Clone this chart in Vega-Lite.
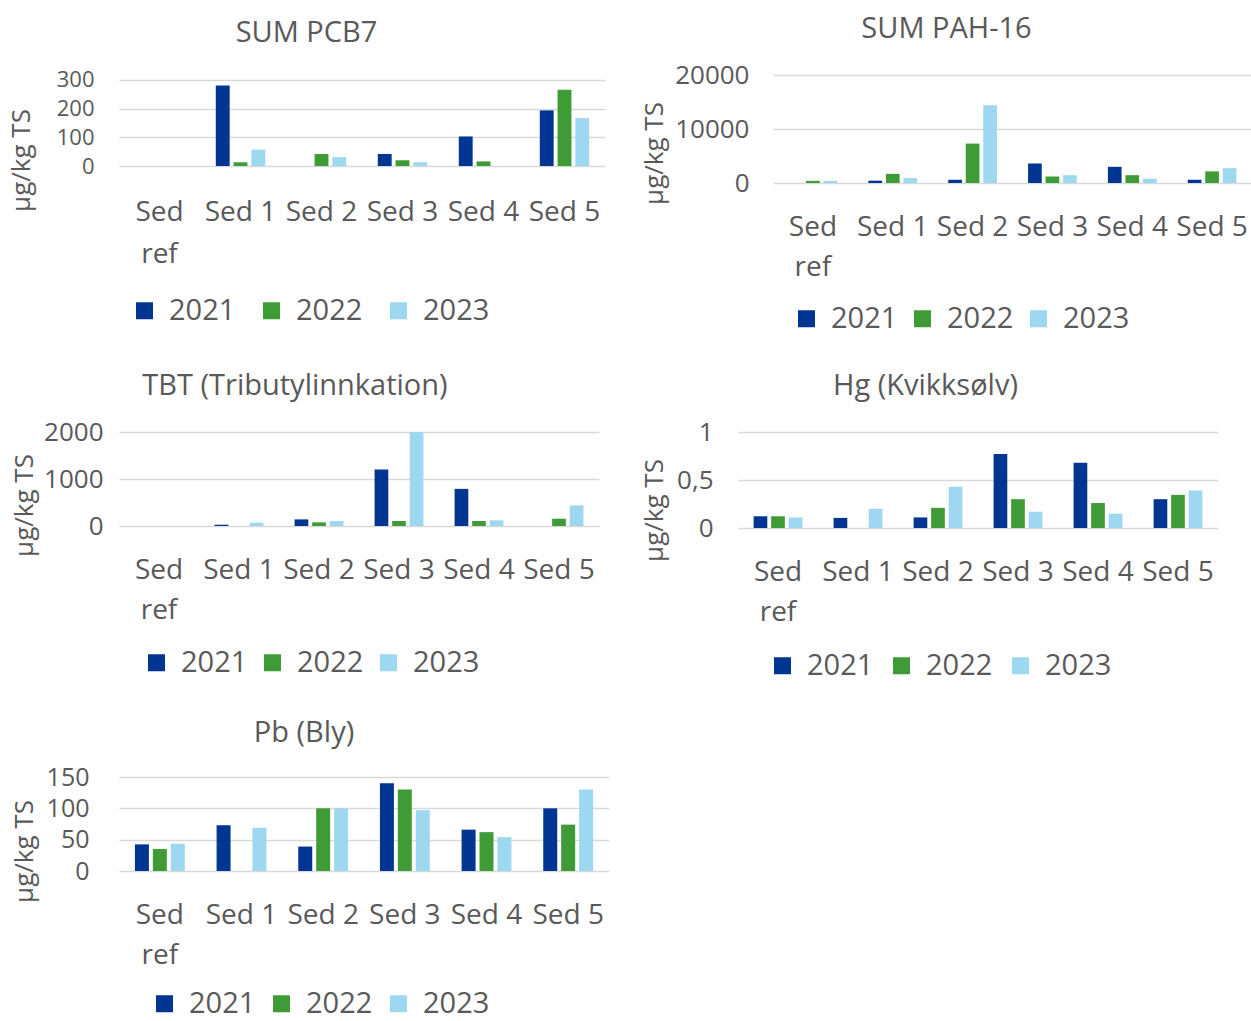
{
  "$schema": "https://vega.github.io/schema/vega-lite/v6.json",
  "background": "white",
  "padding": {"left": 7, "top": 15, "right": 0, "bottom": 4},
  "config": {
    "font": "Open Sans",
    "view": {"stroke": null},
    "axis": {"labelColor": "#595959", "titleColor": "#595959", "titleFontWeight": "normal", "ticks": false, "domain": false, "gridColor": "#D9D9D9", "gridWidth": 1.5},
    "axisX": {"labelFontSize": 28, "labelAngle": 0, "labelPadding": 30, "labelLineHeight": 40, "grid": false},
    "axisY": {"labelFontSize": 26, "labelPadding": 25, "titleFontSize": 26, "titleBaseline": "middle", "titleAlign": "center", "grid": true},
    "legend": {"orient": "none", "direction": "horizontal", "title": null, "symbolType": "square", "symbolSize": 289, "symbolStrokeWidth": 0, "symbolOpacity": 1, "labelFontSize": 29, "labelColor": "#595959", "labelOffset": 10, "columnPadding": 13, "padding": 0},
    "title": {"fontSize": 29, "fontWeight": "normal", "color": "#595959", "anchor": "middle", "frame": "bounds"}
  },
  "data": {"values": [
    {"panel": "PCB7", "site": "Sed 1", "year": "2021", "value": 281},
    {"panel": "PCB7", "site": "Sed 1", "year": "2022", "value": 13},
    {"panel": "PCB7", "site": "Sed 1", "year": "2023", "value": 57},
    {"panel": "PCB7", "site": "Sed 2", "year": "2022", "value": 42},
    {"panel": "PCB7", "site": "Sed 2", "year": "2023", "value": 31},
    {"panel": "PCB7", "site": "Sed 3", "year": "2021", "value": 42},
    {"panel": "PCB7", "site": "Sed 3", "year": "2022", "value": 20},
    {"panel": "PCB7", "site": "Sed 3", "year": "2023", "value": 13},
    {"panel": "PCB7", "site": "Sed 4", "year": "2021", "value": 103},
    {"panel": "PCB7", "site": "Sed 4", "year": "2022", "value": 16},
    {"panel": "PCB7", "site": "Sed 5", "year": "2021", "value": 194},
    {"panel": "PCB7", "site": "Sed 5", "year": "2022", "value": 266},
    {"panel": "PCB7", "site": "Sed 5", "year": "2023", "value": 167},
    {"panel": "PAH16", "site": "Sed ref", "year": "2022", "value": 400},
    {"panel": "PAH16", "site": "Sed ref", "year": "2023", "value": 400},
    {"panel": "PAH16", "site": "Sed 1", "year": "2021", "value": 430},
    {"panel": "PAH16", "site": "Sed 1", "year": "2022", "value": 1700},
    {"panel": "PAH16", "site": "Sed 1", "year": "2023", "value": 900},
    {"panel": "PAH16", "site": "Sed 2", "year": "2021", "value": 600},
    {"panel": "PAH16", "site": "Sed 2", "year": "2022", "value": 7300},
    {"panel": "PAH16", "site": "Sed 2", "year": "2023", "value": 14400},
    {"panel": "PAH16", "site": "Sed 3", "year": "2021", "value": 3600},
    {"panel": "PAH16", "site": "Sed 3", "year": "2022", "value": 1200},
    {"panel": "PAH16", "site": "Sed 3", "year": "2023", "value": 1450},
    {"panel": "PAH16", "site": "Sed 4", "year": "2021", "value": 3000},
    {"panel": "PAH16", "site": "Sed 4", "year": "2022", "value": 1450},
    {"panel": "PAH16", "site": "Sed 4", "year": "2023", "value": 800},
    {"panel": "PAH16", "site": "Sed 5", "year": "2021", "value": 600},
    {"panel": "PAH16", "site": "Sed 5", "year": "2022", "value": 2150},
    {"panel": "PAH16", "site": "Sed 5", "year": "2023", "value": 2750},
    {"panel": "TBT", "site": "Sed 1", "year": "2021", "value": 28},
    {"panel": "TBT", "site": "Sed 1", "year": "2023", "value": 70},
    {"panel": "TBT", "site": "Sed 2", "year": "2021", "value": 141},
    {"panel": "TBT", "site": "Sed 2", "year": "2022", "value": 78},
    {"panel": "TBT", "site": "Sed 2", "year": "2023", "value": 106},
    {"panel": "TBT", "site": "Sed 3", "year": "2021", "value": 1200},
    {"panel": "TBT", "site": "Sed 3", "year": "2022", "value": 106},
    {"panel": "TBT", "site": "Sed 3", "year": "2023", "value": 2000},
    {"panel": "TBT", "site": "Sed 4", "year": "2021", "value": 790},
    {"panel": "TBT", "site": "Sed 4", "year": "2022", "value": 106},
    {"panel": "TBT", "site": "Sed 4", "year": "2023", "value": 120},
    {"panel": "TBT", "site": "Sed 5", "year": "2022", "value": 155},
    {"panel": "TBT", "site": "Sed 5", "year": "2023", "value": 438},
    {"panel": "Hg", "site": "Sed ref", "year": "2021", "value": 0.122},
    {"panel": "Hg", "site": "Sed ref", "year": "2022", "value": 0.122},
    {"panel": "Hg", "site": "Sed ref", "year": "2023", "value": 0.11},
    {"panel": "Hg", "site": "Sed 1", "year": "2021", "value": 0.105},
    {"panel": "Hg", "site": "Sed 1", "year": "2023", "value": 0.2},
    {"panel": "Hg", "site": "Sed 2", "year": "2021", "value": 0.11},
    {"panel": "Hg", "site": "Sed 2", "year": "2022", "value": 0.21},
    {"panel": "Hg", "site": "Sed 2", "year": "2023", "value": 0.43},
    {"panel": "Hg", "site": "Sed 3", "year": "2021", "value": 0.77},
    {"panel": "Hg", "site": "Sed 3", "year": "2022", "value": 0.3},
    {"panel": "Hg", "site": "Sed 3", "year": "2023", "value": 0.17},
    {"panel": "Hg", "site": "Sed 4", "year": "2021", "value": 0.68},
    {"panel": "Hg", "site": "Sed 4", "year": "2022", "value": 0.26},
    {"panel": "Hg", "site": "Sed 4", "year": "2023", "value": 0.15},
    {"panel": "Hg", "site": "Sed 5", "year": "2021", "value": 0.3},
    {"panel": "Hg", "site": "Sed 5", "year": "2022", "value": 0.345},
    {"panel": "Hg", "site": "Sed 5", "year": "2023", "value": 0.39},
    {"panel": "Pb", "site": "Sed ref", "year": "2021", "value": 42.5},
    {"panel": "Pb", "site": "Sed ref", "year": "2022", "value": 35},
    {"panel": "Pb", "site": "Sed ref", "year": "2023", "value": 43.5},
    {"panel": "Pb", "site": "Sed 1", "year": "2021", "value": 73},
    {"panel": "Pb", "site": "Sed 1", "year": "2023", "value": 69},
    {"panel": "Pb", "site": "Sed 2", "year": "2021", "value": 39},
    {"panel": "Pb", "site": "Sed 2", "year": "2022", "value": 100},
    {"panel": "Pb", "site": "Sed 2", "year": "2023", "value": 100},
    {"panel": "Pb", "site": "Sed 3", "year": "2021", "value": 140},
    {"panel": "Pb", "site": "Sed 3", "year": "2022", "value": 130},
    {"panel": "Pb", "site": "Sed 3", "year": "2023", "value": 97},
    {"panel": "Pb", "site": "Sed 4", "year": "2021", "value": 66},
    {"panel": "Pb", "site": "Sed 4", "year": "2022", "value": 62},
    {"panel": "Pb", "site": "Sed 4", "year": "2023", "value": 54},
    {"panel": "Pb", "site": "Sed 5", "year": "2021", "value": 100},
    {"panel": "Pb", "site": "Sed 5", "year": "2022", "value": 74},
    {"panel": "Pb", "site": "Sed 5", "year": "2023", "value": 130}
  ]},
  "spacing": 38,
  "resolve": {"scale": {"color": "independent", "x": "independent", "y": "independent", "xOffset": "independent"}, "legend": {"color": "independent"}},
  "vconcat": [
    {
      "bounds": "flush",
      "spacing": 168,
      "resolve": {"scale": {"color": "independent", "x": "independent", "y": "independent", "xOffset": "independent"}, "legend": {"color": "independent"}},
      "hconcat": [
        {
          "width": 486, "height": 91,
          "title": {"text": "SUM PCB7", "offset": 21},
          "transform": [{"filter": "datum.panel === 'PCB7'"}],
          "mark": "bar",
          "encoding": {
            "x": {"field": "site", "type": "nominal", "title": null, "scale": {"domain": ["Sed ref", "Sed 1", "Sed 2", "Sed 3", "Sed 4", "Sed 5"], "paddingInner": 0.39, "paddingOuter": 0.195}, "axis": {"labelExpr": "datum.value === 'Sed ref' ? ['Sed', 'ref'] : datum.value", "labelPadding": 32, "labelLineHeight": 42}},
            "xOffset": {"field": "year", "type": "nominal", "scale": {"domain": ["2021", "2022", "2023"], "paddingInner": 0.22, "paddingOuter": 0}},
            "y": {"field": "value", "type": "quantitative", "scale": {"domain": [0, 317.4], "nice": false}, "axis": {"values": [0, 100, 200, 300], "labelFontSize": 22, "title": "µg/kg TS", "titleX": -98, "titleY": 85}},
            "color": {"field": "year", "type": "nominal", "scale": {"domain": ["2021", "2022", "2023"], "range": ["#003591", "#3F9B35", "#9DD7F0"]}, "legend": {"legendX": 11, "legendY": 221, "columnPadding": 21}}
          }
        },
        {
          "width": 479, "height": 108,
          "title": {"text": "SUM PAH-16", "offset": 18},
          "transform": [{"filter": "datum.panel === 'PAH16'"}],
          "mark": "bar",
          "encoding": {
            "x": {"field": "site", "type": "nominal", "title": null, "scale": {"domain": ["Sed ref", "Sed 1", "Sed 2", "Sed 3", "Sed 4", "Sed 5"], "paddingInner": 0.39, "paddingOuter": 0.195}, "axis": {"labelExpr": "datum.value === 'Sed ref' ? ['Sed', 'ref'] : datum.value"}},
            "xOffset": {"field": "year", "type": "nominal", "scale": {"domain": ["2021", "2022", "2023"], "paddingInner": 0.22, "paddingOuter": 0}},
            "y": {"field": "value", "type": "quantitative", "scale": {"domain": [0, 20000], "nice": false}, "axis": {"values": [0, 10000, 20000], "format": "d", "title": "µg/kg TS", "titleX": -119, "titleY": 78, "labelPadding": 24}},
            "color": {"field": "year", "type": "nominal", "scale": {"domain": ["2021", "2022", "2023"], "range": ["#003591", "#3F9B35", "#9DD7F0"]}, "legend": {"legendX": 19, "legendY": 229, "columnPadding": 10}}
          }
        }
      ]
    },
    {
      "bounds": "flush",
      "spacing": 139,
      "resolve": {"scale": {"color": "independent", "x": "independent", "y": "independent", "xOffset": "independent"}, "legend": {"color": "independent"}},
      "hconcat": [
        {
          "width": 480, "height": 94,
          "title": {"text": "TBT (Tributylinnkation)", "offset": 18, "dx": -10},
          "transform": [{"filter": "datum.panel === 'TBT'"}],
          "mark": "bar",
          "encoding": {
            "x": {"field": "site", "type": "nominal", "title": null, "scale": {"domain": ["Sed ref", "Sed 1", "Sed 2", "Sed 3", "Sed 4", "Sed 5"], "paddingInner": 0.39, "paddingOuter": 0.195}, "axis": {"labelExpr": "datum.value === 'Sed ref' ? ['Sed', 'ref'] : datum.value"}},
            "xOffset": {"field": "year", "type": "nominal", "scale": {"domain": ["2021", "2022", "2023"], "paddingInner": 0.22, "paddingOuter": 0}},
            "y": {"field": "value", "type": "quantitative", "scale": {"domain": [0, 2000], "nice": false}, "axis": {"values": [0, 1000, 2000], "format": "d", "title": "µg/kg TS", "titleX": -95, "titleY": 73, "labelPadding": 16}},
            "color": {"field": "year", "type": "nominal", "scale": {"domain": ["2021", "2022", "2023"], "range": ["#003591", "#3F9B35", "#9DD7F0"]}, "legend": {"legendX": 23, "legendY": 216, "columnPadding": 10}}
          }
        },
        {
          "width": 480, "height": 96,
          "title": {"text": "Hg (Kvikksølv)", "offset": 18, "dx": -4},
          "transform": [{"filter": "datum.panel === 'Hg'"}],
          "mark": "bar",
          "encoding": {
            "x": {"field": "site", "type": "nominal", "title": null, "scale": {"domain": ["Sed ref", "Sed 1", "Sed 2", "Sed 3", "Sed 4", "Sed 5"], "paddingInner": 0.39, "paddingOuter": 0.195}, "axis": {"labelExpr": "datum.value === 'Sed ref' ? ['Sed', 'ref'] : datum.value"}},
            "xOffset": {"field": "year", "type": "nominal", "scale": {"domain": ["2021", "2022", "2023"], "paddingInner": 0.22, "paddingOuter": 0}},
            "y": {"field": "value", "type": "quantitative", "scale": {"domain": [0, 1], "nice": false}, "axis": {"values": [0, 0.5, 1], "labelExpr": "replace(format(datum.value, ''), '.', ',')", "title": "µg/kg TS", "titleX": -84, "titleY": 78}},
            "color": {"field": "year", "type": "nominal", "scale": {"domain": ["2021", "2022", "2023"], "range": ["#003591", "#3F9B35", "#9DD7F0"]}, "legend": {"legendX": 30, "legendY": 219}}
          }
        }
      ]
    },
    {
      "width": 490, "height": 94,
      "title": {"text": "Pb (Bly)", "offset": 17, "dx": -6},
      "transform": [{"filter": "datum.panel === 'Pb'"}],
      "mark": "bar",
      "encoding": {
        "x": {"field": "site", "type": "nominal", "title": null, "scale": {"domain": ["Sed ref", "Sed 1", "Sed 2", "Sed 3", "Sed 4", "Sed 5"], "paddingInner": 0.39, "paddingOuter": 0.195}, "axis": {"labelExpr": "datum.value === 'Sed ref' ? ['Sed', 'ref'] : datum.value"}},
        "xOffset": {"field": "year", "type": "nominal", "scale": {"domain": ["2021", "2022", "2023"], "paddingInner": 0.22, "paddingOuter": 0}},
        "y": {"field": "value", "type": "quantitative", "scale": {"domain": [0, 150], "nice": false}, "axis": {"values": [0, 50, 100, 150], "labelFontSize": 25, "title": "µg/kg TS", "titleX": -95, "titleY": 74, "labelPadding": 30}},
        "color": {"field": "year", "type": "nominal", "scale": {"domain": ["2021", "2022", "2023"], "range": ["#003591", "#3F9B35", "#9DD7F0"]}, "legend": {"legendX": 31, "legendY": 212, "columnPadding": 11}}
      }
    }
  ]
}
